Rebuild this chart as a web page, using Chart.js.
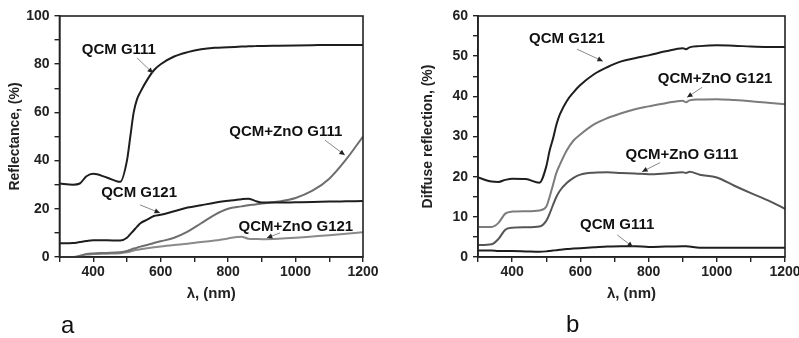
<!DOCTYPE html>
<html lang="en">
<head>
    <meta charset="UTF-8">
    <title>Reflectance and diffuse reflection</title>
    <script src="https://cdn.jsdelivr.net/npm/chart.js"></script>
    <style>
        body { margin: 0; background: #fff; }
        .panel { position: absolute; top: 0; }
        .tag { position: absolute; font: 24px "Liberation Sans", Arial, sans-serif; color: #111; }
    </style>
</head>
<body>
<div class="panel" style="left:0"><canvas id="chartA" width="400" height="338"></canvas></div>
<div class="panel" style="left:400px"><canvas id="chartB" width="399" height="338"></canvas></div>
<div class="tag" style="left:61px; top:311px">a</div>
<div class="tag" style="left:566px; top:310px">b</div>
<script>
    // panel a: total reflectance
    const lamA = [300, 340, 360, 380, 400, 440, 480, 500, 510, 520, 530, 540, 560, 580, 600, 640, 680, 720, 760, 800, 840, 860, 880, 900, 950, 1000, 1050, 1100, 1150, 1200];
    const refG111 = [30.5, 30.0, 30.5, 33.5, 34.5, 33.0, 31.2, 40, 50, 60, 65.5, 68.5, 73.5, 77.5, 80, 83.2, 85, 86.2, 86.8, 87, 87.3, 87.4, 87.5, 87.6, 87.7, 87.8, 87.9, 88, 88, 88];
    const refG121 = [5.7, 5.8, 6.2, 6.6, 6.9, 6.9, 6.8, 8.0, 9.5, 11, 12.6, 14, 15.5, 17, 17.5, 19, 20.5, 21.5, 22.5, 23.3, 24, 24.2, 23.3, 22.6, 22.6, 22.7, 22.8, 23, 23.1, 23.2];
    const refZnoG111 = [0, 0, 0.5, 1.3, 1.5, 1.7, 2, 2.5, 3, 3.5, 3.9, 4.3, 5, 5.8, 6.5, 8, 10.5, 14, 17.5, 20, 21, 21.5, 21.8, 22.2, 23, 24.5, 27.5, 32.5, 40.5, 50];
    const refZnoG121 = [0, 0, 0.3, 1, 1.2, 1.4, 1.6, 2, 2.3, 2.7, 3, 3.2, 3.6, 4, 4.4, 5, 5.5, 6.2, 6.8, 7.7, 8.4, 7.6, 7.5, 7.4, 7.6, 8, 8.5, 9, 9.6, 10.3];

    // panel b: diffuse reflection
    const lamB = [300, 340, 360, 380, 400, 440, 480, 500, 510, 520, 530, 540, 560, 580, 600, 640, 680, 720, 760, 800, 850, 900, 910, 920, 950, 1000, 1050, 1100, 1150, 1200];
    const difG121 = [19.8, 18.8, 18.7, 19.2, 19.5, 19.4, 18.5, 22.5, 26.5, 29.5, 33, 35.5, 38.8, 41, 42.8, 45.5, 47.3, 48.7, 49.5, 50.2, 51.2, 52, 51.7, 52.2, 52.5, 52.7, 52.6, 52.4, 52.3, 52.3];
    const difZnoG121 = [7.5, 7.5, 8.5, 10.8, 11.3, 11.4, 11.6, 12.5, 15, 18, 21, 23, 26.5, 29, 30.5, 33, 34.6, 35.8, 36.8, 37.5, 38.3, 38.9, 38.5, 39, 39.2, 39.3, 39.1, 38.8, 38.4, 38];
    const difZnoG111 = [3.0, 3.2, 4.5, 6.8, 7.3, 7.4, 7.6, 9, 10.8, 13, 15, 16.5, 18.4, 19.7, 20.5, 21, 21.1, 20.9, 20.8, 20.6, 20.8, 21.1, 20.9, 21.2, 20.5, 19.8, 17.8, 15.9, 14.1, 12];
    const difG111 = [1.6, 1.6, 1.5, 1.5, 1.5, 1.4, 1.3, 1.4, 1.5, 1.6, 1.7, 1.8, 2, 2.1, 2.2, 2.4, 2.6, 2.7, 2.7, 2.5, 2.6, 2.7, 2.7, 2.6, 2.3, 2.3, 2.3, 2.3, 2.3, 2.3];

    // curve labels: [text, label x, label y, arrow from x, y, arrow to x, y] in data units
    const notesA = [
        ['QCM G111', 476, 85.9, 530, 82.6, 577, 76.3],
        ['QCM+ZnO G111', 971, 51.9, 1087, 48.5, 1146, 42.3],
        ['QCM G121', 536, 26.6, 539, 21.6, 598, 18.3],
        ['QCM+ZnO G121', 1001, 12.4, 954, 10.0, 915, 7.9]
    ];
    const notesB = [
        ['QCM G121', 561, 54.25, 590, 51.75, 666, 48.75],
        ['QCM+ZnO G121', 995, 44.25, 957, 42.25, 913, 39.75],
        ['QCM+ZnO G111', 898, 25.5, 834, 23.5, 781, 21.25],
        ['QCM G111', 708, 8.0, 708, 5.5, 754, 2.5]
    ];

    const FONT = '"Liberation Sans", Arial, sans-serif';

    const series = (xs, ys, color) => ({
        data: xs.map((x, i) => ({ x: x, y: ys[i] })),
        borderColor: color,
        borderWidth: 2,
        pointRadius: 0,
        cubicInterpolationMode: 'monotone',
        fill: false
    });

    // frame plus curve labels with arrows
    const decor = {
        id: 'decor',
        afterDatasetsDraw(chart, args, opts) {
            const { ctx, chartArea: a, scales: { x, y } } = chart;
            ctx.save();
            ctx.strokeStyle = '#222';
            ctx.lineWidth = 1.6;
            ctx.strokeRect(a.left, a.top, a.right - a.left, a.bottom - a.top);
            ctx.font = 'bold 15px ' + FONT;
            ctx.textAlign = 'center';
            ctx.textBaseline = 'middle';
            opts.notes.forEach(n => {
                ctx.fillStyle = '#111';
                ctx.fillText(n[0], x.getPixelForValue(n[1]), y.getPixelForValue(n[2]));
                const x0 = x.getPixelForValue(n[3]), y0 = y.getPixelForValue(n[4]);
                const x1 = x.getPixelForValue(n[5]), y1 = y.getPixelForValue(n[6]);
                ctx.strokeStyle = '#888';
                ctx.lineWidth = 1;
                ctx.beginPath();
                ctx.moveTo(x0, y0);
                ctx.lineTo(x1, y1);
                ctx.stroke();
                const ang = Math.atan2(y1 - y0, x1 - x0);
                ctx.fillStyle = '#222';
                ctx.beginPath();
                ctx.moveTo(x1, y1);
                ctx.lineTo(x1 - 6 * Math.cos(ang - 0.45), y1 - 6 * Math.sin(ang - 0.45));
                ctx.lineTo(x1 - 6 * Math.cos(ang + 0.45), y1 - 6 * Math.sin(ang + 0.45));
                ctx.closePath();
                ctx.fill();
            });
            ctx.restore();
        }
    };

    const makeChart = (id, datasets, yMax, yStep, yLabelStep, yTitle, yWidth, yTitlePad, notes) => {
        const tickFont = { family: FONT, size: 14, weight: 'bold' };
        return new Chart(document.getElementById(id), {
            type: 'line',
            data: { datasets: datasets },
            plugins: [decor],
            options: {
                responsive: false,
                animation: false,
                layout: { padding: { left: 0, right: id === 'chartA' ? 37 : 14, top: 16, bottom: 0 } },
                plugins: {
                    legend: { display: false },
                    tooltip: { enabled: false },
                    decor: { notes: notes }
                },
                scales: {
                    x: {
                        type: 'linear',
                        min: 300,
                        max: 1200,
                        afterFit: s => { s.height = 81; s.paddingLeft = 0; s.paddingRight = 0; },
                        ticks: {
                            stepSize: 100,
                            autoSkip: false,
                            maxRotation: 0,
                            padding: 2,
                            color: '#222',
                            font: tickFont,
                            callback: v => (v % 200 === 0 ? v : '')
                        },
                        grid: { drawOnChartArea: false, tickLength: 5, color: '#222', lineWidth: 1.4 },
                        border: { color: '#222', width: 1.6 },
                        title: {
                            display: true,
                            text: 'λ, (nm)',
                            color: '#222',
                            font: { family: FONT, size: 15, weight: 'bold' },
                            padding: { top: 0, bottom: 35 }
                        }
                    },
                    y: {
                        min: 0,
                        max: yMax,
                        afterFit: s => { s.width = yWidth; },
                        ticks: {
                            stepSize: yStep,
                            autoSkip: false,
                            padding: 5,
                            color: '#222',
                            font: tickFont,
                            callback: v => (v % yLabelStep === 0 ? v : '')
                        },
                        grid: { drawOnChartArea: false, tickLength: 5, color: '#222', lineWidth: 1.4 },
                        border: { color: '#222', width: 1.6 },
                        title: {
                            display: true,
                            text: yTitle,
                            color: '#222',
                            font: { family: FONT, size: 14, weight: 'bold' },
                            padding: { top: yTitlePad, bottom: 0 }
                        }
                    }
                }
            }
        });
    };

    makeChart('chartA', [
        series(lamA, refG111, '#1e1e1e'),
        series(lamA, refG121, '#1e1e1e'),
        series(lamA, refZnoG111, '#6e6e6e'),
        series(lamA, refZnoG121, '#8a8a8a')
    ], 100, 10, 20, 'Reflectance, (%)', 59.5, 6.6, notesA);

    makeChart('chartB', [
        series(lamB, difG121, '#1e1e1e'),
        series(lamB, difZnoG121, '#7c7c7c'),
        series(lamB, difZnoG111, '#555555'),
        series(lamB, difG111, '#1e1e1e')
    ], 60, 5, 10, 'Diffuse reflection, (%)', 78, 19.6, notesB);
</script>
</body>
</html>
